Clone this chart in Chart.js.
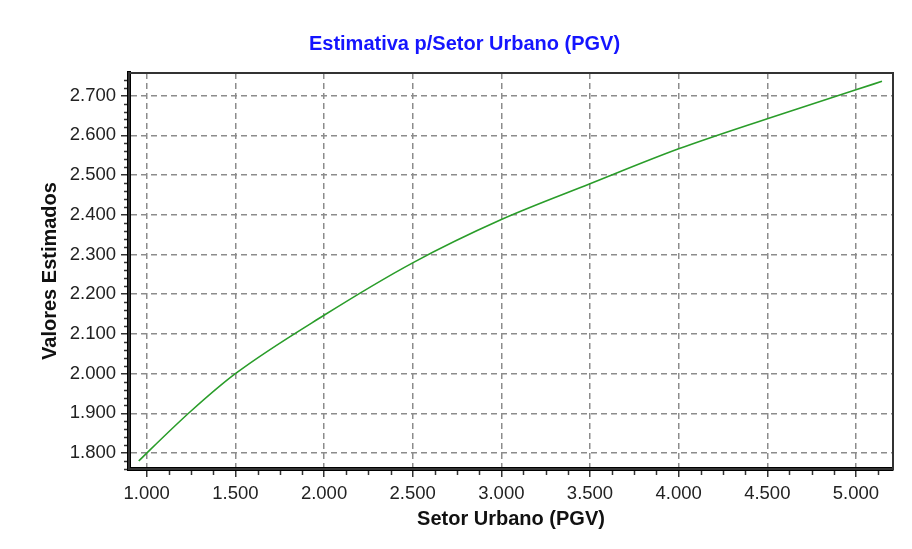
<!DOCTYPE html>
<html>
<head>
<meta charset="utf-8">
<title>Estimativa p/Setor Urbano (PGV)</title>
<script src="https://cdn.jsdelivr.net/npm/chart.js@4/dist/chart.umd.min.js"></script>
<style>
    html, body { margin: 0; padding: 0; background: #fff; }
    canvas { display: block; background: #fff; }
</style>
</head>
<body>
<canvas id="chart-pgv" width="912" height="549"></canvas>
<script>
// valores
const setorUrbano = [955, 1000, 1250, 1500, 2000, 2500, 3000, 3500, 4000, 4500, 5000, 5147];
const valoresEstimados = [1780, 1800, 1906, 2000, 2147, 2279, 2388, 2478, 2566, 2642, 2715, 2736];

const ticksX = [1000, 1500, 2000, 2500, 3000, 3500, 4000, 4500, 5000];
const ticksY = [1800, 1900, 2000, 2100, 2200, 2300, 2400, 2500, 2600, 2700];
const passoMenorX = 125;
const passoMenorY = 20;

const fonteBase = 'Liberation Sans, Arial, sans-serif';

function formatarMilhar(v) {
    return (v / 1000).toFixed(3);
}

// moldura fina (topo/direita) + ticks menores nos eixos
const molduraETicks = {
    id: 'molduraETicks',
    beforeDatasetsDraw(chart) {
        const { ctx, chartArea: a } = chart;
        ctx.save();
        ctx.strokeStyle = '#333';
        ctx.lineWidth = 2;
        ctx.strokeRect(a.left, a.top, a.right - a.left, a.bottom - a.top);
        ctx.restore();
    },
    afterDraw(chart) {
        const { ctx, chartArea: a } = chart;
        const sx = chart.scales.x;
        const sy = chart.scales.y;
        ctx.save();
        ctx.strokeStyle = '#333';
        ctx.lineWidth = 1.5;
        ctx.beginPath();
        for (let v = Math.ceil(sx.min / passoMenorX) * passoMenorX; v <= sx.max; v += passoMenorX) {
            if (ticksX.includes(v)) continue;
            const px = Math.round(sx.getPixelForValue(v)) + 0.5;
            ctx.moveTo(px, a.bottom + 2);
            ctx.lineTo(px, a.bottom + 6);
        }
        for (let v = Math.ceil(sy.min / passoMenorY) * passoMenorY; v <= sy.max; v += passoMenorY) {
            if (ticksY.includes(v)) continue;
            const py = Math.round(sy.getPixelForValue(v)) + 0.5;
            ctx.moveTo(a.left - 2, py);
            ctx.lineTo(a.left - 5, py);
        }
        ctx.stroke();
        ctx.restore();
    }
};

const ctx = document.getElementById('chart-pgv');
new Chart(ctx, {
    type: 'line',
    data: {
        datasets: [{
            label: 'Estimativa',
            data: setorUrbano.map((x, i) => ({ x, y: valoresEstimados[i] })),
            borderColor: '#2a9d2a',
            borderWidth: 1.6,
            pointRadius: 0,
            fill: false,
            cubicInterpolationMode: 'monotone'
        }]
    },
    options: {
        responsive: false,
        animation: false,
        layout: { padding: { left: 36, right: 19, top: 0, bottom: 0 } },
        plugins: {
            legend: { display: false },
            tooltip: { enabled: false },
            title: {
                display: true,
                text: 'Estimativa p/Setor Urbano (PGV)',
                color: '#1515ff',
                font: { family: fonteBase, size: 20, weight: 'bold', lineHeight: 1.2 },
                padding: { top: 32, bottom: 17 }
            }
        },
        scales: {
            x: {
                type: 'linear',
                min: 900,
                max: 5209,
                afterBuildTicks: s => { s.ticks = ticksX.map(v => ({ value: v })); },
                afterFit: s => { s.height = 80; },
                grid: { color: '#8c8c8c', lineWidth: 1.5, tickLength: 8, tickColor: '#333', tickWidth: 1.5 },
                border: { display: true, color: '#000', width: 4, dash: [6, 4] },
                ticks: {
                    callback: v => formatarMilhar(v),
                    color: '#222',
                    padding: 6,
                    maxRotation: 0,
                    font: { family: fonteBase, size: 18.5 }
                },
                title: {
                    display: true,
                    text: 'Setor Urbano (PGV)',
                    color: '#111',
                    font: { family: fonteBase, size: 20, weight: 'bold', lineHeight: 1.2 },
                    padding: { top: 0, bottom: 18 }
                }
            },
            y: {
                type: 'linear',
                min: 1760,
                max: 2757,
                afterBuildTicks: s => { s.ticks = ticksY.map(v => ({ value: v })); },
                afterFit: s => { s.width = 93; },
                grid: { color: '#8c8c8c', lineWidth: 1.5, tickLength: 8, tickColor: '#333', tickWidth: 1.5 },
                border: { display: true, color: '#000', width: 4, dash: [6, 4] },
                ticks: {
                    callback: v => formatarMilhar(v),
                    color: '#222',
                    padding: 5,
                    font: { family: fonteBase, size: 18.5 }
                },
                title: {
                    display: true,
                    text: 'Valores Estimados',
                    color: '#111',
                    font: { family: fonteBase, size: 20, weight: 'bold', lineHeight: 1.2 },
                    padding: { top: 2, bottom: 0 }
                }
            }
        }
    },
    plugins: [molduraETicks]
});
</script>
</body>
</html>
